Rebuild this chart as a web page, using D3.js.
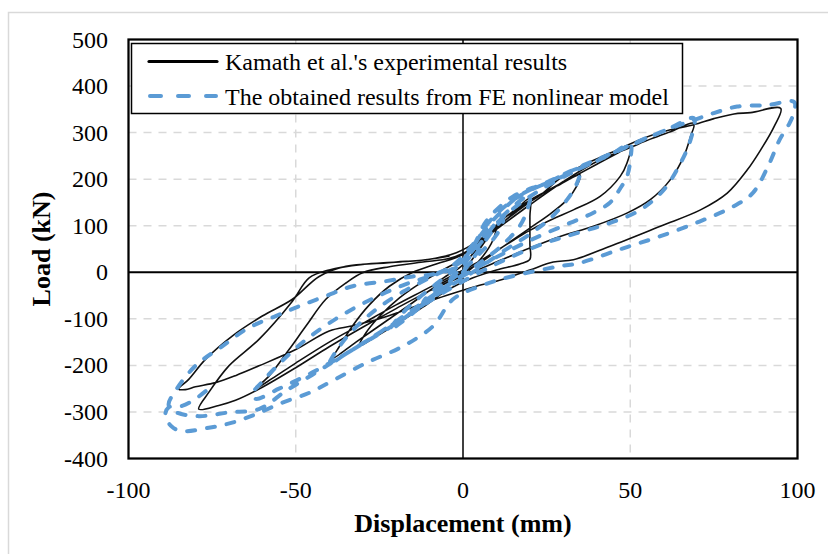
<!DOCTYPE html>
<meta charset="utf-8">
<style>
  body { margin: 0; background: #fff; }
  text { font-family: "Liberation Serif", "Times New Roman", serif; fill: #000; }
  .tick-label { font-size: 24px; }
  .axis-title { font-size: 26px; font-weight: bold; }
  .legend-label { font-size: 24px; }
</style>
<svg id="chart" width="828" height="554"></svg>
<script src="https://cdn.jsdelivr.net/npm/d3@7/dist/d3.min.js"></script>
<script>
// tick values for both axes
const xTicks = [-100, -50, 0, 50, 100];
const yTicks = [-400, -300, -200, -100, 0, 100, 200, 300, 400, 500];

const legendLabels = ["Kamath et al.'s experimental results", "The obtained results from FE nonlinear model"];

// experimental hysteresis, [displacement mm, load kN]
const expPoints = [
  [0,0],[4,40],[8,80],[10,98],[9,70],[6,35],[2,5],[-3,-15],[-7,-30],[-9,-38],[-8,-25],[-5,-8],[-1,10],[3,40],
  [8,80],[14,120],[20,159],[20,120],[20,60],[20,28],[17,18],[10,5],[3,-12],[-5,-40],[-12,-75],[-20,-112],[-26,-138],[-31,-158],
  [-29,-130],[-25,-95],[-19,-55],[-12,-20],[-6,5],[0,30],[6,70],[13,120],[20,155],[28,185],[35,209],
  [34,185],[31,155],[26,125],[20,95],[12,55],[5,20],[0,0],[-8,-30],[-16,-70],[-24,-110],[-32,-150],[-39,-185],
  [-37,-160],[-33,-115],[-28,-70],[-22,-30],[-15,0],[-8,18],[0,38],[8,85],[16,130],[24,170],[33,205],[40,232],[46,255],[50,270],
  [49,234],[47,206],[41,163],[33,134],[27,115],[20,90],[12,55],[4,20],[-4,-10],[-12,-40],[-20,-70],[-30,-110],[-40,-150],[-50,-195],[-57,-228],[-62,-250],
  [-58,-223],[-52,-166],[-47,-116],[-41,-58],[-35,-23],[-30,-1],[-22,12],[-12,22],[-4,30],[2,48],[10,92],[20,145],[30,195],[40,238],[50,268],[56,286],[62,302],[69,320],
  [68,291],[66,249],[62,199],[56,156],[49,127],[39,99],[29,77],[20,52],[10,22],[0,-8],[-10,-40],[-20,-78],[-30,-118],[-40,-160],[-50,-205],[-61,-251],[-68,-275],[-73,-286],[-79,-294],
  [-76,-258],[-70,-201],[-61,-144],[-51,-62],[-46,-12],[-40,5],[-30,17],[-20,22],[-10,28],[-2,42],[5,70],[13,120],[23,165],[29,202],[35,227],[44,256],[54,288],[62,306],[69,317],[75,330],[81,340],[86,343],[95,352],
  [93,313],[89,263],[85,220],[79,170],[71,134],[59,99],[44,56],[33,27],[27,22],[20,5],[12,-15],[4,-30],[-5,-50],[-15,-75],[-25,-100],[-33,-115],[-40,-126],[-50,-166],[-61,-201],[-68,-222],[-74,-237],[-80,-246],[-83,-252],[-85,-251],
  [-82,-230],[-77,-187],[-69,-137],[-60,-94],[-51,-58],[-43,-9],[-35,13],[-23,20],[-11,27],[-4,35]
];

// FE model hysteresis
const fePoints = [
  [0,0],[5,50],[10,100],[12,112],[10,80],[5,40],[0,5],[-5,-25],[-10,-55],[-12,-65],[-9,-40],[-4,-15],[0,15],[5,60],[11,115],[20,165],
  [19,130],[17,100],[12,60],[5,20],[0,-5],[-6,-35],[-12,-70],[-18,-105],[-22,-125],[-19,-95],[-14,-60],[-8,-25],[-2,10],[3,55],[8,110],[16,160],[26,195],[35,222],
  [34,190],[31,155],[26,115],[20,82],[12,45],[4,5],[-4,-30],[-12,-70],[-20,-110],[-28,-145],[-35,-175],[-40,-198],
  [-38,-170],[-33,-125],[-26,-80],[-18,-42],[-10,-12],[-3,15],[3,60],[9,112],[17,165],[28,200],[37,230],[44,252],[50,275],
  [50,240],[49,205],[47,180],[44,150],[39,128],[32,106],[22,75],[12,40],[3,5],[-6,-35],[-15,-80],[-25,-130],[-35,-175],[-45,-215],[-55,-250],[-62,-272],
  [-63,-262],[-60,-235],[-54,-190],[-47,-145],[-38,-100],[-28,-60],[-18,-28],[-8,-3],[0,25],[6,75],[13,125],[22,172],[32,212],[40,240],[48,266],[55,288],[62,310],[69,331],
  [68,284],[65,234],[60,177],[53,134],[44,106],[34,84],[25,64],[15,35],[5,0],[-5,-40],[-15,-85],[-25,-130],[-35,-175],[-45,-220],[-53,-255],[-61,-294],[-70,-301],[-79,-309],[-86,-300],[-88,-285],
  [-86,-255],[-80,-201],[-72,-159],[-64,-119],[-56,-94],[-49,-73],[-41,-51],[-33,-30],[-23,-19],[-15,-9],[-8,-3],[-2,12],[3,55],[7,110],[15,163],[24,190],[30,210],[36,230],[44,254],[54,286],[62,309],[69,327],[75,342],[82,356],[91,359],[99,366],
  [99,345],[97.6,320],[94.6,284],[91.6,234],[86.6,170],[80.7,141],[70.7,109],[58.8,77],[46.8,49],[34.9,20],[28.9,13],[15,-8],[5,-30],[-3,-58],[-9,-116],
  [-18,-159],[-29,-195],[-40,-237],[-46,-259],[-54,-280],[-62,-305],[-69,-323],[-76,-334],[-84,-341],[-87,-332],[-89,-308],[-88,-290],[-84,-287],[-80,-272],[-76,-250]
];

const svg = d3.select("#chart");

// light grey outer border of the chart area
svg.append("rect")
  .attr("x", 8.5).attr("y", 12.5)
  .attr("width", 840).attr("height", 560)
  .attr("fill", "#fff")
  .attr("stroke", "#d9d9d9").attr("stroke-width", 1.5);

const x = d3.scaleLinear().domain([-100, 100]).range([128.5, 797.5]);
const y = d3.scaleLinear().domain([-400, 500]).range([458.5, 39.5]);

// dashed grid
svg.append("g").selectAll("line")
  .data(yTicks.filter(d => d != 0 && d != -400 && d != 500))
  .enter().append("line")
  .attr("x1", x(-100)).attr("x2", x(100))
  .attr("y1", d => y(d)).attr("y2", d => y(d))
  .attr("stroke", "#d9d9d9").attr("stroke-width", 1.5)
  .attr("stroke-dasharray", "8,7");

svg.append("g").selectAll("line")
  .data(xTicks.filter(d => d != 0 && Math.abs(d) != 100))
  .enter().append("line")
  .attr("x1", d => x(d)).attr("x2", d => x(d))
  .attr("y1", y(500)).attr("y2", y(-400))
  .attr("stroke", "#d9d9d9").attr("stroke-width", 1.5)
  .attr("stroke-dasharray", "8,7");

// zero lines
svg.append("line")
  .attr("x1", x(-100)).attr("x2", x(100))
  .attr("y1", y(0)).attr("y2", y(0))
  .attr("stroke", "#000").attr("stroke-width", 2);
svg.append("line")
  .attr("x1", x(0)).attr("x2", x(0))
  .attr("y1", y(500)).attr("y2", y(-400))
  .attr("stroke", "#000").attr("stroke-width", 1.5);

const line = d3.line()
  .x(d => x(d[0]))
  .y(d => y(d[1]))
  .curve(d3.curveCatmullRom.alpha(0.5));

svg.append("path")
  .datum(expPoints)
  .attr("d", line)
  .attr("fill", "none")
  .attr("stroke", "#111")
  .attr("stroke-width", 1.6)
  .attr("stroke-linejoin", "round");

svg.append("path")
  .datum(fePoints)
  .attr("d", line)
  .attr("fill", "none")
  .attr("stroke", "#5b9bd5")
  .attr("stroke-width", 4)
  .attr("stroke-linecap", "round")
  .attr("stroke-dasharray", "8,12");

// plot frame
svg.append("rect")
  .attr("x", x(-100)).attr("y", y(500))
  .attr("width", x(100) - x(-100)).attr("height", y(-400) - y(500))
  .attr("fill", "none")
  .attr("stroke", "#000").attr("stroke-width", 2.25);

// tick labels
svg.append("g").selectAll("text")
  .data(yTicks)
  .enter().append("text")
  .attr("class", "tick-label")
  .attr("x", 108)
  .attr("y", d => y(d) + 8)
  .attr("text-anchor", "end")
  .text(d => d);

svg.append("g").selectAll("text")
  .data(xTicks)
  .enter().append("text")
  .attr("class", "tick-label")
  .attr("x", d => x(d))
  .attr("y", 498)
  .attr("text-anchor", "middle")
  .text(d => d);

// axis titles
svg.append("text")
  .attr("class", "axis-title")
  .attr("x", x(0)).attr("y", 532)
  .attr("text-anchor", "middle")
  .text("Displacement (mm)");

svg.append("text")
  .attr("class", "axis-title")
  .attr("transform", "translate(50," + (y(50)) + ") rotate(-90)")
  .attr("text-anchor", "middle")
  .text("Load (kN)");

// legend
const legend = svg.append("g");
legend.append("rect")
  .attr("x", 131.5).attr("y", 43.5)
  .attr("width", 551).attr("height", 70)
  .attr("fill", "#fff")
  .attr("stroke", "#000").attr("stroke-width", 1.5);

legend.append("line")
  .attr("x1", 149).attr("x2", 217)
  .attr("y1", 61.5).attr("y2", 61.5)
  .attr("stroke", "#000").attr("stroke-width", 3.2)
  .attr("stroke-linecap", "round");

legend.append("line")
  .attr("x1", 150).attr("x2", 216)
  .attr("y1", 96).attr("y2", 96)
  .attr("stroke", "#5b9bd5").attr("stroke-width", 4)
  .attr("stroke-linecap", "round")
  .attr("stroke-dasharray", "11,17");

legend.selectAll("text")
  .data(legendLabels)
  .enter().append("text")
  .attr("class", "legend-label")
  .attr("x", 225)
  .attr("y", (d, i) => 69.5 + i * 35)
  .text(d => d);
</script>
